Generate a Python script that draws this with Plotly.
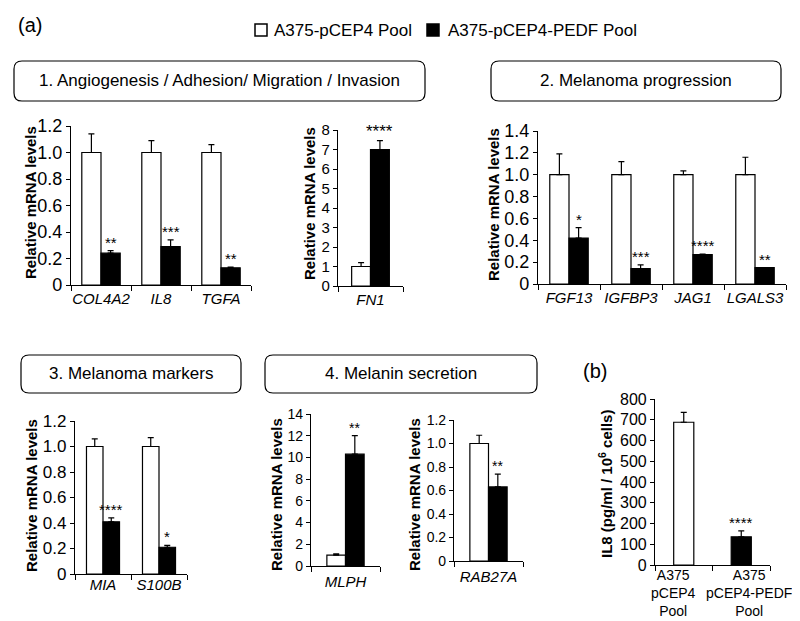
import plotly.graph_objects as go

W, H = 800, 621
FONT = "Liberation Sans, Arial, sans-serif"

# ---- values ----
angio_genes = ["COL4A2", "IL8", "TGFA"]
angio_ctrl = [1.0, 1.0, 1.0]
angio_ctrl_err = [0.14, 0.09, 0.06]
angio_pedf = [0.24, 0.29, 0.13]
angio_pedf_err = [0.02, 0.05, 0.005]
angio_sig = ["**", "***", "**"]

fn1_genes = ["FN1"]
fn1_ctrl = [1.0]
fn1_ctrl_err = [0.2]
fn1_pedf = [7.0]
fn1_pedf_err = [0.46]
fn1_sig = ["****"]

prog_genes = ["FGF13", "IGFBP3", "JAG1", "LGALS3"]
prog_ctrl = [1.0, 1.0, 1.0, 1.0]
prog_ctrl_err = [0.19, 0.12, 0.035, 0.16]
prog_pedf = [0.42, 0.14, 0.27, 0.15]
prog_pedf_err = [0.095, 0.035, 0.004, 0.0]
prog_sig = ["*", "***", "****", "**"]

marker_genes = ["MIA", "S100B"]
marker_ctrl = [1.0, 1.0]
marker_ctrl_err = [0.06, 0.07]
marker_pedf = [0.41, 0.21]
marker_pedf_err = [0.03, 0.015]
marker_sig = ["****", "*"]

mlph_genes = ["MLPH"]
mlph_ctrl = [1.0]
mlph_ctrl_err = [0.12]
mlph_pedf = [10.3]
mlph_pedf_err = [1.7]
mlph_sig = ["**"]

rab_genes = ["RAB27A"]
rab_ctrl = [1.0]
rab_ctrl_err = [0.07]
rab_pedf = [0.63]
rab_pedf_err = [0.11]
rab_sig = ["**"]

il8_groups = ["A375 pCEP4 Pool", "A375 pCEP4-PEDF Pool"]
il8_values = [688, 136]
il8_err = [48, 28]
il8_sig = ["", "****"]

legend_names = ["A375-pCEP4 Pool", "A375-pCEP4-PEDF Pool"]
box_titles = ["1. Angiogenesis / Adhesion/ Migration / Invasion", "2. Melanoma progression",
              "3. Melanoma markers", "4. Melanin secretion"]
ytitle = "Relative mRNA levels"


def ticks(top, step, decimals):
    vals = [round(i * step, 6) for i in range(int(round(top / step)) + 1)]
    text = ["0" if v == 0 else f"{v:.{decimals}f}" for v in vals]
    return vals, text


fig = go.Figure()
annotations = []
shapes = []


def axis_names(n):
    s = "" if n == 1 else str(n)
    return "x" + s, "y" + s, "xaxis" + s, "yaxis" + s


def setup_axes(n, cats, xpx, ypx, yrange, yticks, tick_size, cat_size, title_pos, title,
               title_size=15, label_standoff=0):
    xn, yn, xk, yk = axis_names(n)
    line = dict(showline=True, linecolor="black", linewidth=1.2, ticks="outside", automargin=False,
                tickcolor="black", tickwidth=1.2, showgrid=False, zeroline=False, fixedrange=True)
    fig.layout[xk] = dict(domain=[xpx[0] / W, xpx[1] / W], anchor=yn, type="category",
                          categoryorder="array", categoryarray=cats, range=[-0.5, len(cats) - 0.5],
                          tickson="boundaries", ticklen=5, tickangle=0,
                          ticklabelstandoff=label_standoff,
                          tickfont=dict(size=cat_size, color="black", style="italic"), **line)
    fig.layout[yk] = dict(domain=[1 - ypx[0] / H, 1 - ypx[1] / H], anchor=xn, range=yrange,
                          tickmode="array", tickvals=yticks[0], ticktext=yticks[1], ticklen=4,
                          tickfont=dict(size=tick_size, color="black"), **line)
    annotations.append(dict(x=title_pos[0] / W, y=1 - title_pos[1] / H, xref="paper", yref="paper",
                            text=f"<b>{title}</b>", textangle=-90, showarrow=False,
                            xanchor="center", yanchor="middle",
                            font=dict(size=title_size, color="black")))
    return xn, yn


def pair_panel(n, genes, ctrl, ctrl_err, pedf, pedf_err, sig, w, star_size, **kw):
    xn, yn = setup_axes(n, genes, **kw)
    zeros = [0] * len(genes)
    fig.add_trace(go.Bar(x=genes, y=ctrl, width=w, offset=-w, xaxis=xn, yaxis=yn,
                         marker=dict(color="white", line=dict(color="black", width=1.2)),
                         error_y=dict(type="data", array=ctrl_err, arrayminus=zeros, symmetric=False,
                                      color="black", thickness=1.2, width=3),
                         name=legend_names[0], showlegend=False))
    fig.add_trace(go.Bar(x=genes, y=pedf, width=w, offset=0, xaxis=xn, yaxis=yn,
                         marker=dict(color="black", line=dict(color="black", width=1.2)),
                         error_y=dict(type="data", array=pedf_err, arrayminus=zeros, symmetric=False,
                                      color="black", thickness=1.2, width=3),
                         name=legend_names[1], showlegend=False))
    for i, s in enumerate(sig):
        annotations.append(dict(x=i + w / 2, y=pedf[i] + pedf_err[i], xref=xn, yref=yn, text=s,
                                showarrow=False, xanchor="center", yanchor="bottom", yshift=-2,
                                font=dict(size=star_size, color="black")))


pair_panel(1, angio_genes, angio_ctrl, angio_ctrl_err, angio_pedf, angio_pedf_err, angio_sig,
           0.32, 15, xpx=(63, 243), ypx=(277, 118), yrange=[0, 1.2], yticks=ticks(1.2, 0.2, 1),
           tick_size=18, cat_size=15, title_pos=(22, 195), title=ytitle)
pair_panel(2, fn1_genes, fn1_ctrl, fn1_ctrl_err, fn1_pedf, fn1_pedf_err, fn1_sig,
           0.29, 17, xpx=(330, 395), ypx=(278, 122), yrange=[0, 8], yticks=ticks(8, 1, 0),
           tick_size=15, cat_size=15, title_pos=(301, 196), title=ytitle)
pair_panel(3, prog_genes, prog_ctrl, prog_ctrl_err, prog_pedf, prog_pedf_err, prog_sig,
           0.31, 15, xpx=(530, 778), ypx=(276, 123), yrange=[0, 1.4], yticks=ticks(1.4, 0.2, 1),
           tick_size=18, cat_size=15, title_pos=(485, 196), title=ytitle)
pair_panel(4, marker_genes, marker_ctrl, marker_ctrl_err, marker_pedf, marker_pedf_err, marker_sig,
           0.295, 15, xpx=(67, 179), ypx=(566, 413), yrange=[0, 1.2], yticks=ticks(1.2, 0.2, 1),
           tick_size=17, cat_size=15, title_pos=(23, 488), title=ytitle, label_standoff=-3)
pair_panel(5, mlph_genes, mlph_ctrl, mlph_ctrl_err, mlph_pedf, mlph_pedf_err, mlph_sig,
           0.27, 14, xpx=(303, 372), ypx=(558, 406), yrange=[0, 14], yticks=ticks(14, 2, 0),
           tick_size=14, cat_size=15, title_pos=(268, 487), title=ytitle, label_standoff=2)
pair_panel(6, rab_genes, rab_ctrl, rab_ctrl_err, rab_pedf, rab_pedf_err, rab_sig,
           0.27, 14, xpx=(446, 515), ypx=(553, 412), yrange=[0, 1.2], yticks=ticks(1.2, 0.2, 1),
           tick_size=14, cat_size=15, title_pos=(406, 486), title=ytitle, label_standoff=2)

# panel (b): secreted IL8
xn, yn = setup_axes(7, il8_groups, xpx=(647, 762), ypx=(557, 391), yrange=[0, 800],
                    yticks=ticks(800, 100, 0), tick_size=16, cat_size=16, title_pos=(597, 476),
                    title="IL8 (pg/ml / 10<sup>6</sup> cells)", title_size=15)
fig.layout["xaxis7"].update(showticklabels=False)
bw = 0.35
fig.add_trace(go.Bar(x=il8_groups, y=il8_values, width=bw, xaxis=xn, yaxis=yn,
                     marker=dict(color=["white", "black"], line=dict(color="black", width=1.2)),
                     error_y=dict(type="data", array=il8_err, arrayminus=[0, 0], symmetric=False,
                                  color="black", thickness=1.2, width=3),
                     showlegend=False))
for i, g in enumerate(il8_groups):
    # group labels sit a little wider apart than the bars in the original
    annotations.append(dict(x=i, y=1 - 562 / H, xref=xn, yref="paper", text=g.replace(" ", "<br>"),
                            xshift=(-10, 8)[i], showarrow=False, xanchor="center", yanchor="top",
                            yshift=5, font=dict(size=14, color="black")))
for i, s in enumerate(il8_sig):
    if s:
        annotations.append(dict(x=i, y=il8_values[i] + il8_err[i], xref=xn, yref=yn, text=s,
                                showarrow=False, xanchor="center", yanchor="bottom", yshift=-2,
                                font=dict(size=15, color="black")))


# section header boxes
def rounded_box(x0, y0, x1, y1, r=8):
    X = lambda v: v / W
    Y = lambda v: 1 - v / H
    return (f"M {X(x0 + r)},{Y(y0)} L {X(x1 - r)},{Y(y0)} Q {X(x1)},{Y(y0)} {X(x1)},{Y(y0 + r)} "
            f"L {X(x1)},{Y(y1 - r)} Q {X(x1)},{Y(y1)} {X(x1 - r)},{Y(y1)} "
            f"L {X(x0 + r)},{Y(y1)} Q {X(x0)},{Y(y1)} {X(x0)},{Y(y1 - r)} "
            f"L {X(x0)},{Y(y0 + r)} Q {X(x0)},{Y(y0)} {X(x0 + r)},{Y(y0)} Z")


boxes = [(6, 53, 417, 93), (483, 53, 773, 93), (13, 347, 233, 385), (257, 347, 529, 385)]
for (x0, y0, x1, y1), t in zip(boxes, box_titles):
    shapes.append(dict(type="path", xref="paper", yref="paper", path=rounded_box(x0, y0, x1, y1),
                       line=dict(color="black", width=1.2)))
    annotations.append(dict(x=(x0 + x1) / 2 / W, y=1 - (y0 + y1) / 2 / H, xref="paper", yref="paper",
                            text=t, showarrow=False, xanchor="center", yanchor="middle",
                            font=dict(size=17, color="black")))

# legend drawn by hand
for (x0, y0, x1, y1), fill, tx, name in [((247, 16, 259, 28), "white", 264, legend_names[0]),
                                         ((419, 16, 431, 28), "black", 438, legend_names[1])]:
    shapes.append(dict(type="rect", xref="paper", yref="paper", x0=x0 / W, x1=x1 / W,
                       y0=1 - y0 / H, y1=1 - y1 / H, fillcolor=fill, line=dict(color="black", width=1.5)))
    annotations.append(dict(x=tx / W, y=1 - 22 / H, xref="paper", yref="paper", text=name,
                            showarrow=False, xanchor="left", yanchor="middle",
                            font=dict(size=17, color="black")))

for label, (x, y) in [("(a)", (8, 17)), ("(b)", (573, 363))]:
    annotations.append(dict(x=x / W, y=1 - y / H, xref="paper", yref="paper", text=label,
                            showarrow=False, xanchor="left", yanchor="middle",
                            font=dict(size=20, color="black")))

fig.update_layout(width=W, height=H, margin=dict(l=0, r=0, t=0, b=0), barmode="overlay",
                  plot_bgcolor="white", paper_bgcolor="white", showlegend=False,
                  font=dict(family=FONT, color="black"), annotations=annotations, shapes=shapes)

fig.write_html("out.html")
